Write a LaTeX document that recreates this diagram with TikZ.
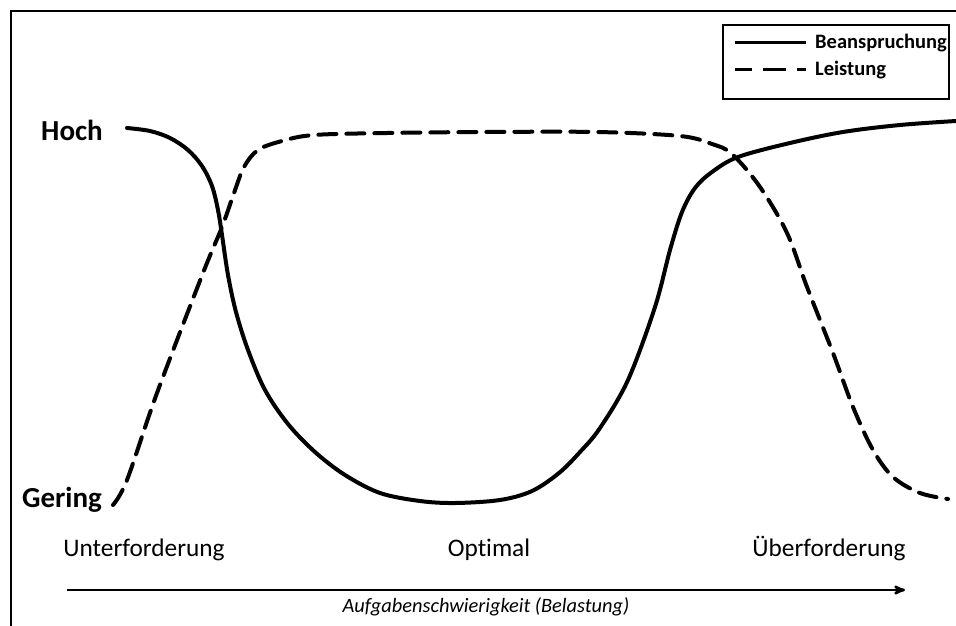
\documentclass[tikz,border=0pt]{standalone}
\usepackage{fontspec}
\setmainfont{Carlito}[Ligatures=NoCommon]
\usetikzlibrary{arrows,calc,positioning}

\begin{document}
\begin{tikzpicture}[x=1pt,y=-1pt,>=stealth',
	kurve/.style={line width=4pt,line cap=round},
	leistung/.style={kurve,dash pattern=on 18pt off 10pt},
	stufe/.style={font=\fontsize{25.3}{29}\selectfont,inner sep=0pt,anchor=base},
	niveau/.style={font=\bfseries\fontsize{29}{32}\selectfont,inner sep=0pt},
	legtext/.style={font=\bfseries\fontsize{20.5}{23}\selectfont,inner sep=0pt,anchor=west}]
	\useasboundingbox (0,0) rectangle (956,626);
	% Rahmen
	\draw[line width=2pt] (11,626) -- (11,11) -- (956,11);
	% Legende
	\node[draw,line width=1.5pt,minimum width=226pt,minimum height=74pt] (legende) at (836,62) {};
	\coordinate (bA) at (735,43);
	\coordinate (bB) at (806,43);
	\coordinate (lA) at (735,70);
	\coordinate (lB) at (806,70);
	\node[legtext] (bText) at (815,43) {Beanspruchung};
	\node[legtext] (lText) at (815,70) {Leistung};
	\draw[line width=3pt] (bA) -- (bB);
	\draw[line width=3pt,dash pattern=on 17pt off 11pt on 23pt off 11pt] (lA) -- (lB);
	% Achsenbeschriftung
	\node[niveau] (hoch) at (72,130) {Hoch};
	\node[niveau] (gering) at (62,500) {Gering};
	\node[stufe] (unter) at (144,556) {Unterforderung};
	\node[stufe] (optimal) at (489,556) {Optimal};
	\node[stufe] (ueber) at (829,556) {Überforderung};
	% Kurven
	\draw[kurve] plot[smooth,tension=0.55] coordinates {(127,128) (150,131) (170,138) (188,150) (202,166) (212,186) (218,210) (222,235) (228,275) (236,312) (248,350) (265,390) (288,424) (315,452) (345,475) (380,493) (420,501) (455,503) (500,500) (532,491) (559,473) (580,452) (600,428) (628,380) (655,307) (670,250) (682,212) (695,188) (712,172) (738,157) (790,143) (843,132) (900,125) (956,121)};
	\draw[leistung] plot[smooth,tension=0.55] coordinates {(113,505) (127,480) (157,393) (203,273) (222,227) (234,193) (244,167) (258,150) (282,141) (314,135) (387,133) (483,132) (597,132) (680,136) (712,144) (732,154) (760,187) (787,233) (807,287) (833,353) (853,407) (873,450) (893,477) (920,493) (948,499)};
	% Belastungsachse
	\coordinate (pA) at (67,590);
	\coordinate (pB) at (905,590);
	\draw[->,line width=2.5pt] (pA) -- (pB);
	\node[font=\itshape\fontsize{20.4}{24}\selectfont,inner sep=0pt] (achse) at (486,607) {Aufgabenschwierigkeit (Belastung)};
\end{tikzpicture}
\end{document}
